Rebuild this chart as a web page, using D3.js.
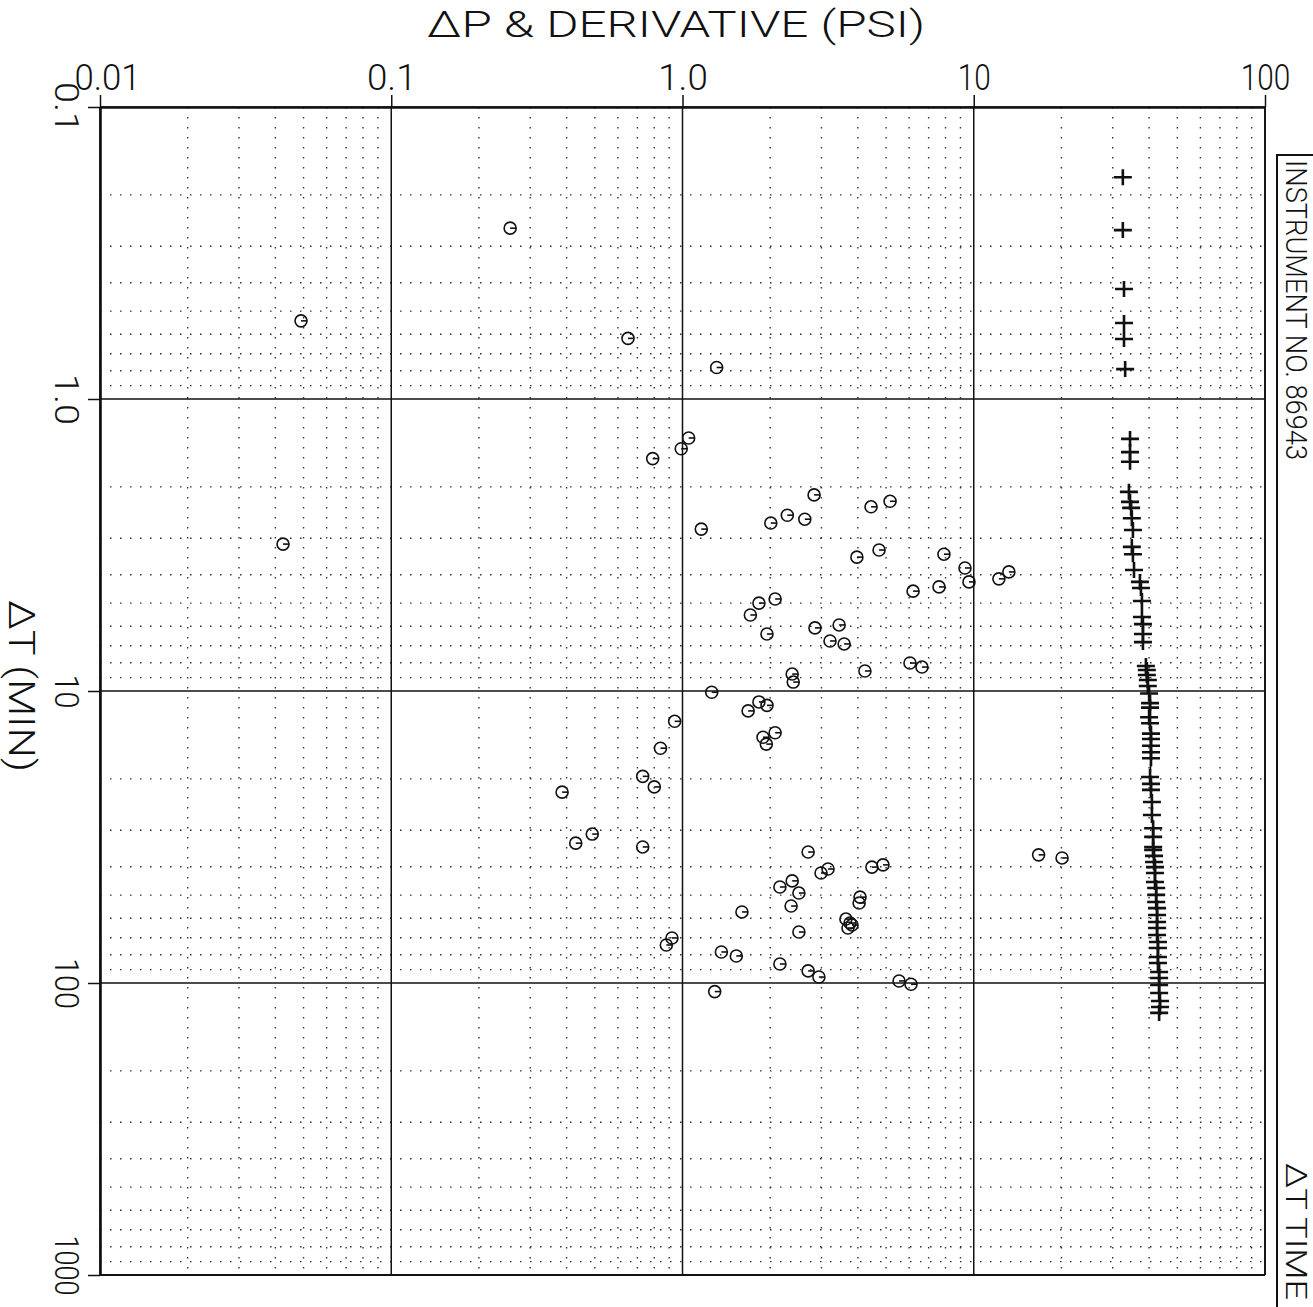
<!DOCTYPE html>
<html>
<head>
<meta charset="utf-8">
<script src="https://cdn.jsdelivr.net/npm/d3@7"></script>
<style>
  html, body { margin: 0; padding: 0; background: #fff; }
  svg { display: block; }
  text { font-family: Roboto, "DejaVu Sans", sans-serif; font-weight: 300; fill: #111; }
</style>
</head>
<body>
<svg id="chart" width="1313" height="1307"></svg>
<script>
// Axis ticks (log decades)
const xTicks = [0.01, 0.1, 1, 10, 100];
const xTickLabels = ["0.01", "0.1", "1.0", "10", "100"];
const yTicks = [0.1, 1, 10, 100, 1000];
const yTickLabels = ["0.1", "1.0", "10", "100", "1000"];

// Pressure change (PSI) vs elapsed time (min) -- plotted as "+"
const dpTime = [0.174, 0.264, 0.420, 0.549, 0.623, 0.790,
  1.37, 1.52, 1.64, 2.08, 2.25, 2.36, 2.56, 2.81, 3.21, 3.40, 3.85,
  4.23, 4.44, 4.92, 5.58, 5.90, 6.38, 6.80,
  8.21, 8.47, 8.81, 9.17, 9.61, 10.2, 11.0, 11.4, 12.3, 12.9, 14.0, 14.6, 15.4, 16.2, 17.0,
  19.7, 20.8, 21.8, 24.0, 26.6, 29.5, 31.6, 34.2, 35.0, 36.7, 38.5, 40.1, 42.0, 45.1, 47.3,
  49.9, 52.8, 55.4, 58.5, 61.8, 64.8, 68.5, 72.4, 75.9, 81.5, 85.4, 91.7, 96.1, 101.6, 108.2,
  115.2, 120.8, 126.6];
const dpValue = [32.5, 32.5, 32.8, 32.8, 32.8, 33.1,
  34.4, 34.4, 34.4, 34.1, 34.4, 34.7, 34.9, 35.2, 34.9, 35.2, 35.5,
  37.2, 37.5, 37.8, 37.8, 38.1, 38.1, 38.1,
  39.0, 39.3, 39.3, 39.6, 39.6, 40.0, 40.3, 40.3, 40.0, 40.3, 40.6, 40.6, 40.6, 40.6, 40.6,
  40.3, 40.6, 40.6, 40.9, 40.9, 41.3, 41.3, 41.3, 41.3, 41.6, 41.6, 41.9, 41.9, 41.9, 42.3,
  42.3, 42.3, 42.6, 42.6, 42.6, 42.6, 42.6, 42.9, 42.9, 42.9, 42.9, 43.3, 43.3, 43.3, 43.3,
  43.6, 43.6, 43.3];

// Pressure derivative (PSI) vs elapsed time (min) -- plotted as circles
const derivTime = [0.26, 0.54, 0.62, 0.78, 1.36, 1.48, 1.60, 3.14, 2.79, 2.66,
  2.50, 2.58, 2.13, 2.34, 2.24, 3.48, 3.29, 3.40, 3.79, 4.23,
  4.13, 3.91, 4.55, 4.40, 4.84, 5.00, 5.49, 6.38, 6.08, 5.94,
  6.74, 6.90, 8.54, 8.75, 9.32, 8.02, 8.28, 10.1, 10.9, 11.2,
  11.7, 12.7, 13.9, 14.4, 15.2, 15.7, 19.6, 21.3, 22.2, 30.9,
  33.2, 34.2, 35.6, 40.7, 42.0, 40.1, 39.4, 44.7, 46.9, 49.2,
  54.5, 57.1, 50.8, 53.2, 60.4, 62.3, 64.8, 63.3, 66.9, 70.1,
  74.1, 78.3, 80.8, 86.1, 90.9, 95.4, 98.4, 101, 107, 36.4, 37.3];
const derivValue = [0.256, 0.049, 0.65, 1.31, 1.05, 0.99, 0.79, 0.0425, 1.16, 2.01,
  2.29, 2.63, 2.83, 4.44, 5.16, 3.97, 4.73, 7.90, 9.33, 9.63,
  12.2, 13.2, 6.19, 7.60, 2.08, 1.83, 1.71, 1.95, 2.85, 3.45,
  3.21, 3.59, 4.23, 2.38, 2.40, 6.04, 6.64, 1.26, 1.83, 1.95,
  1.68, 0.94, 2.08, 1.89, 1.94, 0.84, 0.73, 0.80, 0.386, 0.49,
  0.43, 0.73, 2.70, 3.16, 2.99, 4.47, 4.88, 2.38, 2.16, 2.51,
  2.36, 1.60, 4.07, 4.04, 3.64, 3.76, 3.70, 3.82, 2.51, 0.92,
  0.88, 1.36, 1.53, 2.16, 2.70, 2.94, 5.54, 6.09, 1.29, 16.7, 20.1];

const svg = d3.select("#chart");
svg.append("rect").attr("width", 1313).attr("height", 1307).attr("fill", "#fff");

const plotL = 100, plotR = 1265, plotT = 107, plotB = 1275;
const x = d3.scaleLog().domain([0.01, 100]).range([plotL, plotR]);
const y = d3.scaleLog().domain([0.1, 1000]).range([plotT, plotB]);

// Minor grid: 2..9 within every decade, dotted
const minorX = [];
xTicks.slice(0, -1).forEach(b => { for (let k = 2; k <= 9; k++) minorX.push(b * k); });
const minorY = [];
yTicks.slice(0, -1).forEach(b => { for (let k = 2; k <= 9; k++) minorY.push(b * k); });

const grid = svg.append("g").attr("stroke", "#333").attr("stroke-width", 1.4)
  .attr("stroke-dasharray", "1.5,8.5").attr("fill", "none");
grid.selectAll("line.mx").data(minorX).join("line").attr("class", "mx")
  .attr("x1", d => x(d)).attr("x2", d => x(d)).attr("y1", plotT).attr("y2", plotB);
grid.selectAll("line.my").data(minorY).join("line").attr("class", "my")
  .attr("y1", d => y(d)).attr("y2", d => y(d)).attr("x1", plotL).attr("x2", plotR);

// Major grid: decades, solid
const major = svg.append("g").attr("stroke", "#111").attr("stroke-width", 1.5);
major.selectAll("line.Mx").data(xTicks).join("line").attr("class", "Mx")
  .attr("x1", d => x(d)).attr("x2", d => x(d)).attr("y1", plotT).attr("y2", plotB);
major.selectAll("line.My").data(yTicks).join("line").attr("class", "My")
  .attr("y1", d => y(d)).attr("y2", d => y(d)).attr("x1", plotL).attr("x2", plotR);

// Top axis (pressure)
const xAxis = svg.append("g").attr("transform", `translate(0,${plotT})`)
  .call(d3.axisTop(x).tickValues(xTicks).tickFormat((d, i) => xTickLabels[i])
    .tickSize(12).tickSizeOuter(0).tickPadding(16));
xAxis.select(".domain").attr("stroke", "#111").attr("stroke-width", 2.6);
xAxis.selectAll(".tick line").attr("stroke", "#111").attr("stroke-width", 1.5);
xAxis.selectAll(".tick text")
  .attr("font-size", 36).attr("font-family", null).attr("fill", "#111")
  .attr("dy", 0).attr("y", -17)
  .attr("dx", (d, i) => i === 0 ? 7 : 0)
  .attr("textLength", (d, i) => xTickLabels[i].length * 16.5)
  .attr("lengthAdjust", "spacingAndGlyphs");

// Left axis (time), labels turned to read downward
const lastY = yTicks.length - 1;
const yAxis = svg.append("g").attr("transform", `translate(${plotL},0)`)
  .call(d3.axisLeft(y).tickValues(yTicks).tickFormat((d, i) => yTickLabels[i])
    .tickSize(12).tickSizeOuter(0));
yAxis.select(".domain").attr("stroke", "#111").attr("stroke-width", 2.6);
yAxis.selectAll(".tick line").attr("stroke", "#111").attr("stroke-width", 1.5);
yAxis.selectAll(".tick text")
  .attr("font-size", 33).attr("font-family", null).attr("fill", "#111")
  .attr("x", 0).attr("y", 0).attr("dy", 0)
  .attr("text-anchor", "middle")
  .attr("transform", (d, i) => i === lastY
    ? "translate(-45,-10) rotate(90)" : "translate(-45,0) rotate(90)")
  .attr("textLength", (d, i) => yTickLabels[i].length * (i === lastY ? 15 : 17))
  .attr("lengthAdjust", "spacingAndGlyphs");

// Right and bottom frame lines
svg.append("line").attr("x1", plotR).attr("x2", plotR).attr("y1", plotT).attr("y2", plotB)
  .attr("stroke", "#111").attr("stroke-width", 1.8);
svg.append("line").attr("x1", plotL).attr("x2", plotR).attr("y1", plotB).attr("y2", plotB)
  .attr("stroke", "#111").attr("stroke-width", 1.8);

// Titles
svg.append("text").attr("x", 676).attr("y", 37).attr("text-anchor", "middle")
  .attr("font-size", 37).attr("textLength", 498).attr("lengthAdjust", "spacingAndGlyphs")
  .text("ΔP & DERIVATIVE (PSI)");
svg.append("text").attr("transform", "translate(9,600) rotate(90)")
  .attr("font-size", 36).attr("textLength", 172).attr("lengthAdjust", "spacingAndGlyphs")
  .text("ΔT (MIN)");

// Side panel
svg.append("path").attr("d", "M1277,1307V155H1313").attr("fill", "none")
  .attr("stroke", "#111").attr("stroke-width", 2);
svg.append("text").attr("transform", "translate(1286,160) rotate(90)")
  .attr("font-size", 29).attr("textLength", 300).attr("lengthAdjust", "spacingAndGlyphs")
  .text("INSTRUMENT NO. 86943");
svg.append("text").attr("transform", "translate(1286,1163) rotate(90)")
  .attr("font-size", 29).attr("textLength", 137).attr("lengthAdjust", "spacingAndGlyphs")
  .text("ΔT TIME");

// Pressure change: connecting trace through the late, closely spaced points
const dp = dpTime.map((t, i) => ({ t, v: dpValue[i] }));
svg.append("path")
  .datum(dp.filter(d => d.t >= 8))
  .attr("fill", "none").attr("stroke", "#111").attr("stroke-width", 1.6)
  .attr("d", d3.line().x(d => x(d.v)).y(d => y(d.t)));

svg.append("g").selectAll("path").data(dp).join("path")
  .attr("transform", d => `translate(${x(d.v)},${y(d.t)})`)
  .attr("d", "M-9,0H9M0,-8V8")
  .attr("stroke", "#111").attr("stroke-width", 2.6).attr("fill", "none");

// Derivative: circle with a short bar to the right
const der = derivTime.map((t, i) => ({ t, v: derivValue[i] }));
const marks = svg.append("g").selectAll("g").data(der).join("g")
  .attr("transform", d => `translate(${x(d.v)},${y(d.t)})`)
  .attr("stroke", "#111").attr("stroke-width", 1.6).attr("fill", "none");
marks.append("circle").attr("r", 6);
marks.append("line").attr("x1", 0).attr("x2", 6).attr("y1", 0).attr("y2", 0);
</script>
</body>
</html>
